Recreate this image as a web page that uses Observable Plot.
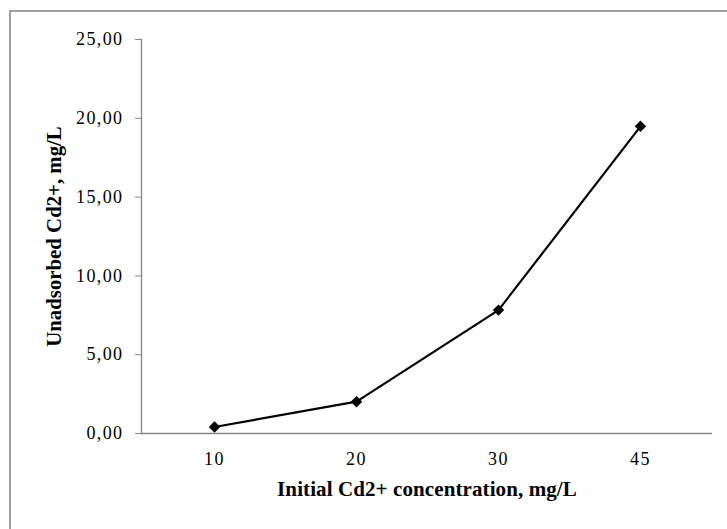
<!DOCTYPE html>
<html>
<head>
<meta charset="utf-8">
<script src="https://cdn.jsdelivr.net/npm/d3@7"></script>
<script src="https://cdn.jsdelivr.net/npm/@observablehq/plot@0.6"></script>
<style>
  html, body { margin: 0; padding: 0; background: #fff; }
  #wrap { position: relative; width: 727px; height: 529px; overflow: hidden; }
  #border { position: absolute; left: 9px; top: 10px; width: 800px; height: 600px;
            border-left: 2px solid #a0a0a0; border-top: 2px solid #a0a0a0; box-sizing: border-box; }
  #chart { position: absolute; left: 0; top: 0; }
  svg [aria-label="y-axis tick label"] text, svg [aria-label="x-axis tick label"] text {
    letter-spacing: 1.4px;
  }
  svg [aria-label="x-axis label"] text {
    font-weight: bold; font-size: 21px; fill: #000; letter-spacing: 0.1px;
  }
  svg [aria-label="y-axis label"] text {
    font-weight: bold; font-size: 20.8px; fill: #000;
  }
</style>
</head>
<body>
<div id="wrap"><div id="border"></div><div id="chart"></div></div>
<script>
const categories = ["10", "20", "30", "45"];
const unadsorbed = [0.41, 2.02, 7.83, 19.49];
const yTicks = [0, 5, 10, 15, 20, 25];
const xTitle = "Initial Cd2+ concentration, mg/L";
const yTitle = "Unadsorbed Cd2+, mg/L";

const data = categories.map((c, i) => ({c, v: unadsorbed[i]}));
const fmt = d => d.toFixed(2).replace(".", ",");

const chart = Plot.plot({
  width: 727,
  height: 529,
  marginLeft: 141,
  marginRight: 15,
  marginTop: 39,
  marginBottom: 96,
  style: {fontFamily: "Liberation Serif", fontSize: "18px", color: "#000", background: "transparent"},
  x: {type: "point", domain: categories, padding: 0.5},
  y: {domain: [0, 25]},
  marks: [
    Plot.axisY({ticks: yTicks, tickFormat: fmt, tickSize: 6, tickPadding: 12, stroke: "#868686",
      label: yTitle, labelAnchor: "center", labelArrow: "none", labelOffset: 95}),
    Plot.axisX({tickSize: 0, tickPadding: 19, label: xTitle, labelAnchor: "center", labelArrow: "none", labelOffset: 62}),
    Plot.frame({anchor: "left", stroke: "#868686", strokeWidth: 1.3}),
    Plot.ruleY([0], {stroke: "#868686", strokeWidth: 1.3}),
    Plot.line(data, {x: "c", y: "v", stroke: "#000", strokeWidth: 2.2}),
    Plot.dot(data, {x: "c", y: "v", symbol: "diamond2", r: 4.2, fill: "#000", stroke: "#000"})
  ]
});
document.getElementById("chart").appendChild(chart);
</script>
</body>
</html>
